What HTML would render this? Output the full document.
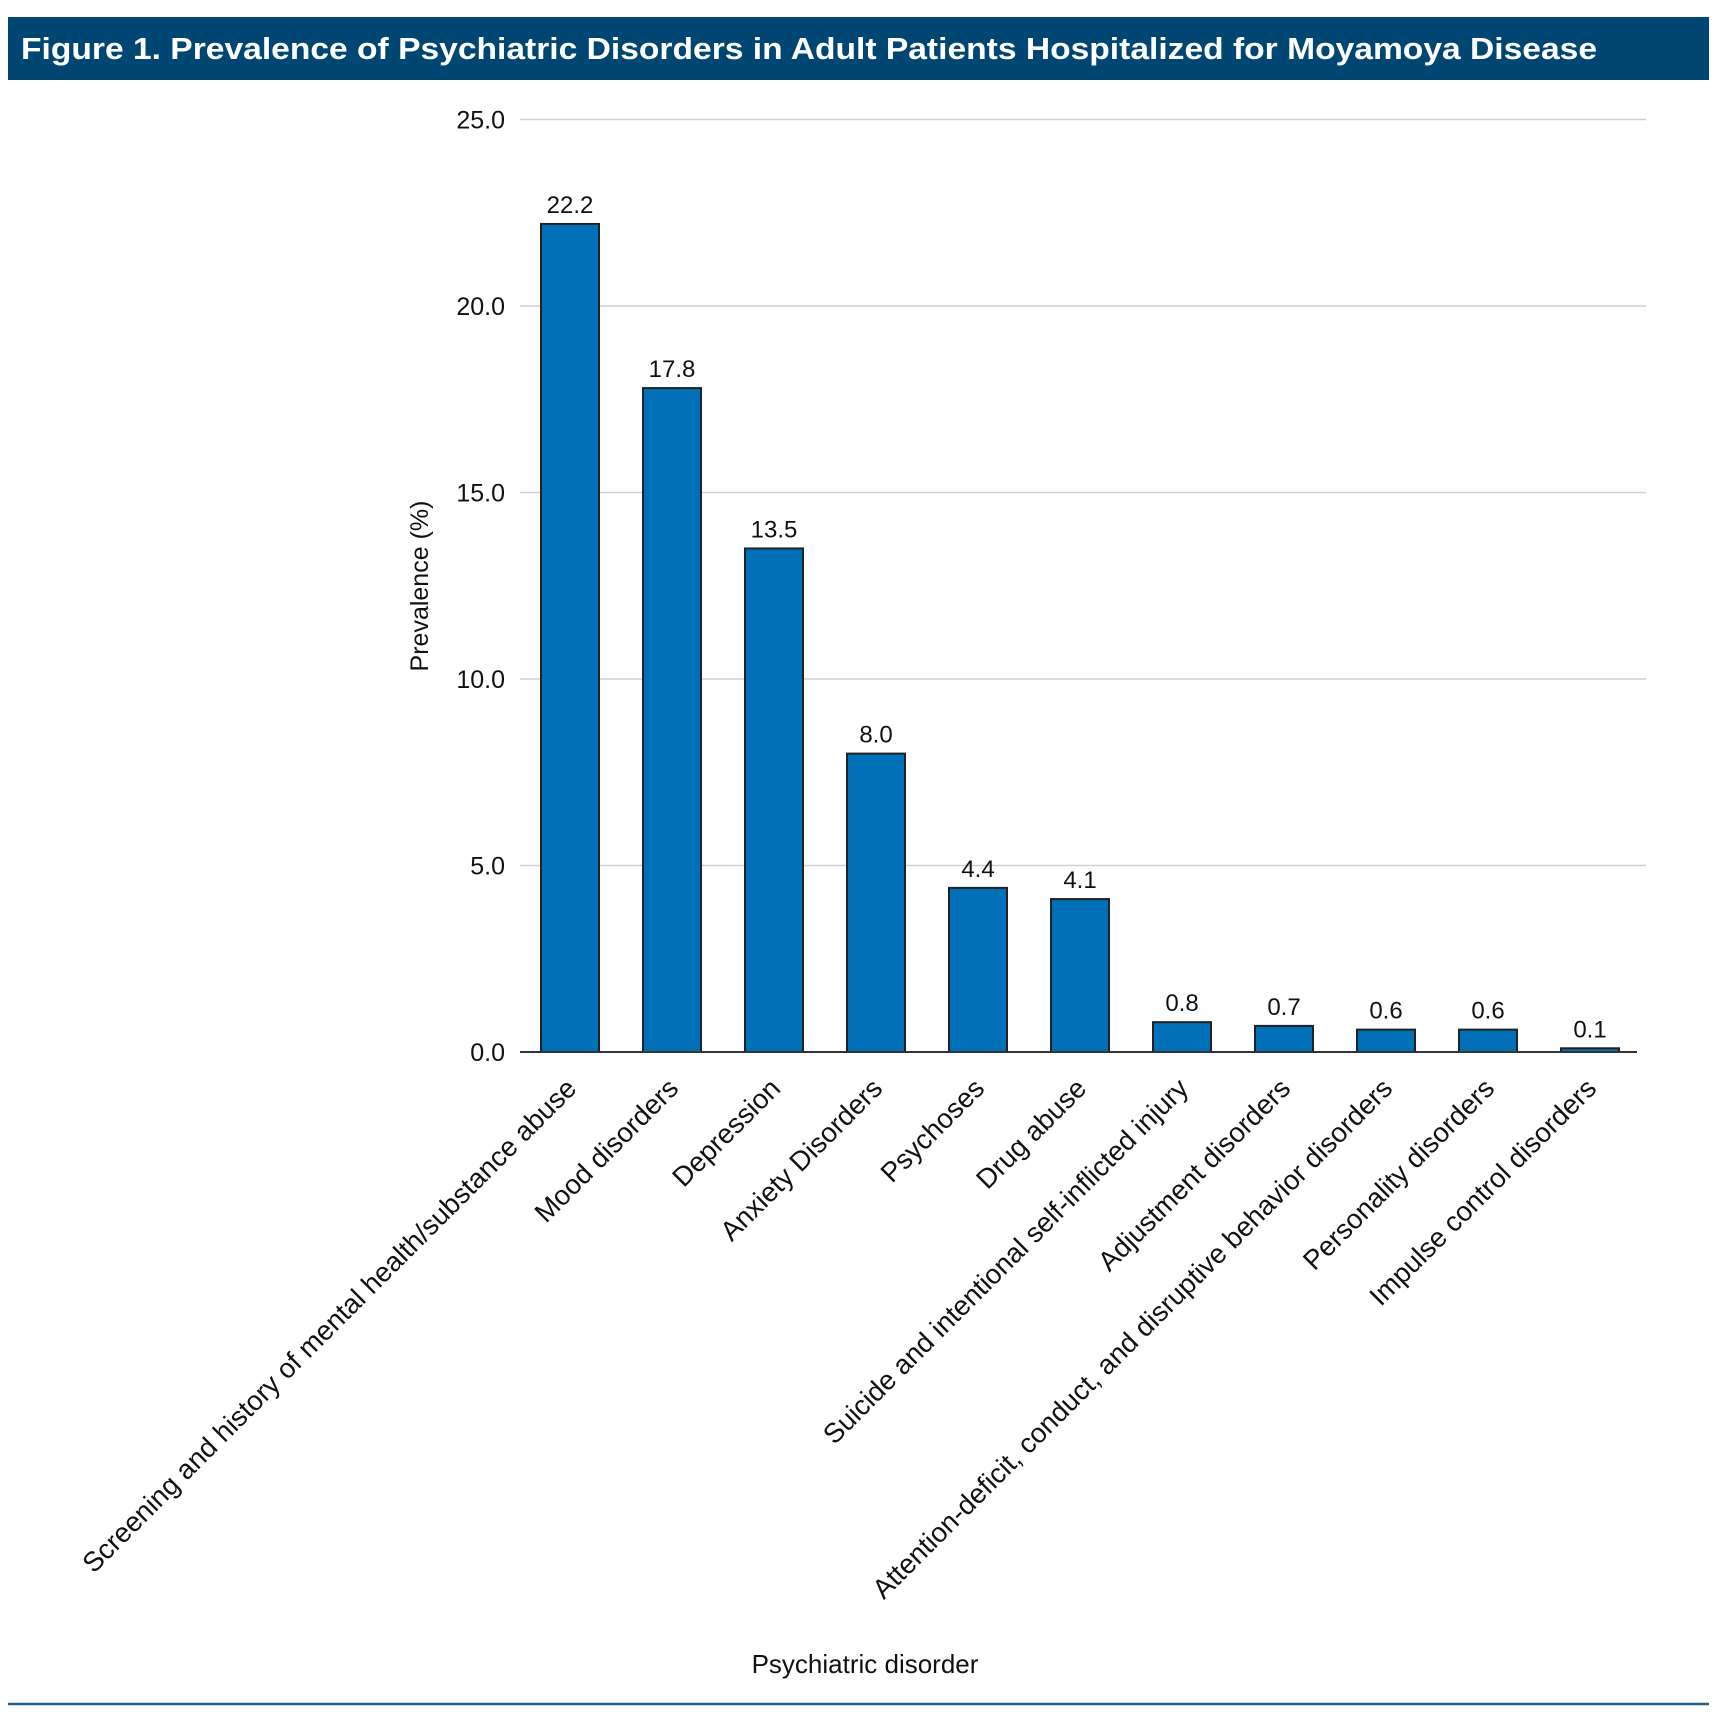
<!DOCTYPE html>
<html><head><meta charset="utf-8"><style>
html,body{margin:0;padding:0;background:#fff;}
svg{display:block;font-family:"Liberation Sans",sans-serif;}
</style></head><body>
<svg id="chart" width="1717" height="1724" viewBox="0 0 1717 1724">
<rect x="8" y="17" width="1701" height="63" fill="#004672"/>
<text x="21" y="59" fill="#fff" font-size="31" font-weight="bold" textLength="1576" lengthAdjust="spacingAndGlyphs">Figure 1. Prevalence of Psychiatric Disorders in Adult Patients Hospitalized for Moyamoya Disease</text>
<g id="grid"></g><g id="bars"></g><g id="labels"></g>
<text x="0" y="0" transform="translate(428,586) rotate(-90)" text-anchor="middle" font-size="25" fill="#111">Prevalence (%)</text>
<text x="865" y="1673" text-anchor="middle" font-size="26" fill="#111">Psychiatric disorder</text>
<line x1="8" y1="1704" x2="1709" y2="1704" stroke="#1f5f8b" stroke-width="2.5"/>
</svg>
<script>
const categories = ["Screening and history of mental health/substance abuse","Mood disorders","Depression","Anxiety Disorders","Psychoses","Drug abuse","Suicide and intentional self-inflicted injury","Adjustment disorders","Attention-deficit, conduct, and disruptive behavior disorders","Personality disorders","Impulse control disorders"];
const values = [22.2,17.8,13.5,8.0,4.4,4.1,0.8,0.7,0.6,0.6,0.1];
const valueLabels = ["22.2","17.8","13.5","8.0","4.4","4.1","0.8","0.7","0.6","0.6","0.1"];
const yTicks = [0,5,10,15,20,25];
const yTickLabels = ["0.0","5.0","10.0","15.0","20.0","25.0"];

const NS="http://www.w3.org/2000/svg";
const y0=1052, y25=119.5;
function yScale(v){return y0-(y0-y25)*v/25;}
function xScale(i){return 570+i*102;}
const bw=58;
function mk(tag,attrs,parent){const e=document.createElementNS(NS,tag);for(const k in attrs)e.setAttribute(k,attrs[k]);parent.appendChild(e);return e;}
const grid=document.getElementById('grid'),bars=document.getElementById('bars'),labels=document.getElementById('labels');
yTicks.forEach((t,i)=>{
  const y=yScale(t);
  if(t>0){const l=mk('line',{x1:520,x2:1646,y1:y,y2:y,stroke:'#d0d0d0','stroke-width':1.5},grid);
  
  }
  const tx=mk('text',{x:505,y:y+9,'text-anchor':'end','font-size':25,fill:'#111'},grid);
  tx.textContent=yTickLabels[i];
  
  
});
values.forEach((v,i)=>{
  const cx=xScale(i), yt=yScale(v);
  const r=mk('rect',{x:cx-bw/2,y:yt,width:bw,height:y0-yt,fill:'#0070b8',stroke:'#222','stroke-width':2},bars);
  
  
  const vl=mk('text',{x:cx,y:yt-11,'text-anchor':'middle','font-size':24,fill:'#111'},labels);
  vl.textContent=valueLabels[i];
  
  
  const cl=mk('text',{x:0,y:0,'text-anchor':'end','font-size':27.5,fill:'#111',transform:`translate(${cx+8},${1090}) rotate(-45)`},labels);
  cl.textContent=categories[i];
  
  
});
const ax=mk('line',{x1:520,x2:1637,y1:y0,y2:y0,stroke:'#333','stroke-width':2},bars);


</script>
</body></html>
